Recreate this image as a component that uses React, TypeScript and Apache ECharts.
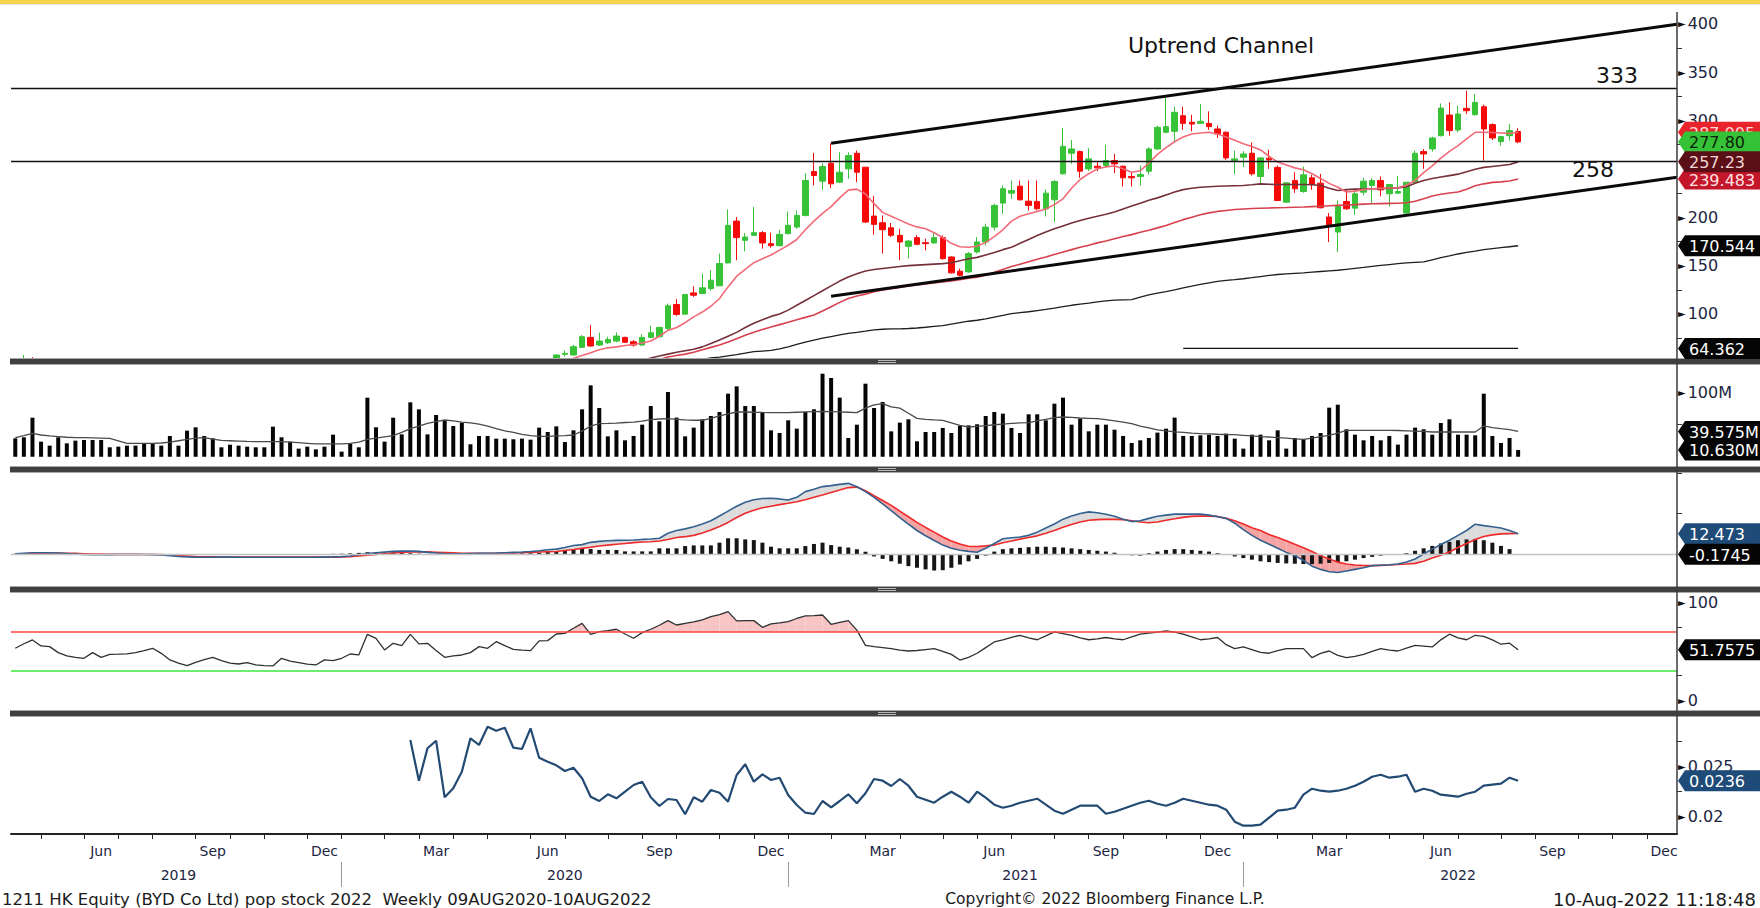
import React, { useEffect, useRef } from 'react';
import * as echarts from 'echarts';

const FONT = '"DejaVu Sans", Verdana, sans-serif';
const DAY = 86400000;
const START = Date.UTC(2019, 3, 5);
const N_WEEKS = 194;
const weeks: string[] = [];
for (let i = 0; i < N_WEEKS; i++) weeks.push(new Date(START + i * 7 * DAY).toISOString().slice(0, 10));
const MONTHS = ['Jan', 'Feb', 'Mar', 'Apr', 'May', 'Jun', 'Jul', 'Aug', 'Sep', 'Oct', 'Nov', 'Dec'];
const LABEL_MONTHS = [2, 5, 8, 11];

// ---------- price (weekly OHLC: open, close, low, high) ----------
const EARLY_START = 1;
const earlyOhlc = [[50, 53, 48, 57.5], [53, 51, 49, 55.5]];
const OHLC_START = 63;
const ohlc = [
  [54.0, 57.6, 53, 58.3], [58.3, 59.3, 56, 62], [57.6, 66.2, 57, 67.9], [65.5, 76.5, 65, 78.2], [75.8, 66.9, 66.2, 88.5],
  [67.9, 72.0, 66.9, 80.6], [70.3, 73.7, 69, 76.5], [72, 77.2, 70.7, 81], [75.8, 70.7, 70.3, 76.5], [71.3, 67.9, 66.2, 73],
  [67.9, 75.8, 66.9, 78.9], [75.8, 80.6, 74.8, 87.8], [76.5, 86.1, 75.8, 86.8], [85.1, 108.4, 83.4, 110.8], [109.8, 99.5, 98.1, 115.3],
  [99.8, 120.1, 99.8, 120.5], [121.8, 119.4, 117.7, 128.7], [121.2, 127, 120.5, 141.8], [126.3, 134.9, 123.9, 145.2], [129.1, 152.1, 129.1, 162.4],
  [152.8, 191.6, 152.1, 208.1], [196.0, 178.9, 155.5, 200.2], [176.1, 179.5, 164.8, 183.7], [181.3, 184.0, 180.6, 210.5], [184.0, 173.4, 167.5, 185.7],
  [172.7, 170.6, 168.5, 184.0], [170.6, 182.3, 169.9, 187.1], [183, 191.6, 182.3, 206], [189.8, 201.9, 188.1, 207.0], [201.9, 237.9, 200.8, 245.5],
  [247.2, 243.1, 232.8, 266.5], [237.3, 252.4, 228.3, 255.8], [255.8, 234.5, 230.0, 276.4], [236.2, 246.5, 235.2, 267.1], [250.0, 263.7, 239.7, 267.1],
  [266.1, 246.5, 236.2, 268.9], [251.7, 195.0, 194.0, 251.7], [201.2, 192.6, 182.0, 221.8], [194.3, 187.1, 162.4, 201.9], [189.1, 181.3, 179.5, 194.0],
  [181.3, 174.4, 155.5, 188.1], [169.9, 175.4, 157.2, 176.1], [178.9, 172.0, 171.0, 181.3], [173.7, 172.7, 165.8, 177.8], [173.4, 178.9, 172.7, 183.7],
  [178.9, 157.2, 156.2, 181.3], [158.9, 142.5, 141.8, 159.6], [144.2, 140.0, 139.0, 146.9], [143.5, 162.4, 142.5, 164.1], [164.1, 174.4, 162.4, 179.5],
  [174.4, 189.8, 170.9, 193.3], [189.8, 212.2, 186.4, 213.9], [214.6, 229.4, 203.6, 232.8], [224.9, 227.6, 219.0, 237.9], [232.1, 218.0, 217.3, 237.9],
  [216.6, 212.2, 207.0, 237.9], [216.3, 208.7, 207.0, 237.9], [208.7, 224.9, 200.8, 228.7], [218.0, 236.9, 195.0, 238.6], [244.8, 273.3, 244.1, 292.2],
  [266.1, 270.6, 255.1, 279.8], [267.8, 247.6, 240.7, 268.9], [249.9, 260.3, 247.6, 271.3], [252.7, 251.0, 247.6, 256.8], [253.4, 258.5, 251.7, 275.0],
  [258.5, 255.1, 245.5, 265.4], [252.7, 240.7, 231.8, 253.4], [242.1, 240.7, 231.8, 246.5], [242.1, 244.1, 232.8, 253.4], [247.6, 270.6, 244.1, 272.3],
  [270.6, 292.9, 269.6, 294.6], [287.8, 293.6, 286.7, 325], [288.8, 308.4, 278.5, 314.2], [304.9, 297.0, 290.2, 314.2], [298.1, 296.3, 288.8, 306.0],
  [297, 299.1, 296.3, 317], [297.0, 293.6, 290.2, 309.4], [291.2, 286.0, 281.9, 294.6], [287.8, 261.3, 259.2, 288.8], [258.5, 260.3, 244.8, 268.9],
  [262.0, 265.4, 251.7, 268.2], [266.1, 244.8, 243.1, 277.4], [242.1, 261.3, 235.2, 262.0], [260.9, 259.2, 250.0, 269.6], [251.5, 217.3, 216.6, 253.4],
  [215.6, 235.5, 214.6, 236.2], [237.9, 229.4, 225.2, 246.5], [226.6, 243.8, 225.2, 252.4], [240.7, 233.8, 228.3, 243.8], [235.2, 209.8, 209.1, 244.8],
  [200.2, 191.6, 174.4, 204.3], [184.7, 211.1, 164.1, 217.3], [216.3, 208.7, 207.7, 228.3], [209.4, 224.2, 202.6, 229.4], [225.9, 237.3, 222.5, 240.7],
  [232.8, 237.9, 213.9, 240.4], [237.9, 228.3, 221.5, 242.1], [224.2, 233.8, 211.1, 233.8], [224.9, 226.6, 224.2, 242.4], [204.3, 236.2, 203.6, 236.2],
  [236.2, 266.1, 234.5, 268.9], [267.8, 265.4, 250.0, 270.6], [270.6, 281.9, 267.8, 283.3], [284.3, 312.8, 283.3, 317.6], [305.6, 289.5, 284.3, 318.7],
  [290.2, 306.6, 287.8, 315.2], [312.5, 310.1, 306.6, 330.7], [306.0, 318.7, 304.9, 327.3], [314.2, 291.2, 258.5, 316.3], [295.7, 281.9, 279.8, 297.0],
  [278.1, 283.3, 274.0, 284.3], [284.3, 289.5, 279.2, 296.3], [288.5, 277.8, 276.5, 292],
];

// ---------- moving averages ----------
const MA1_START = 64;
const ma1 = [50, 54.2, 57, 60, 63, 65, 66, 67.5, 68.5, 70, 72, 77, 83, 86, 91, 97, 102, 108, 116, 128, 139, 146, 153, 157, 161, 166, 171, 177, 187, 196, 204, 211, 220, 228, 229, 224, 214, 205, 201, 197, 193, 190, 188, 184, 179, 173, 169.5, 169, 170, 174, 180, 187, 196, 201, 203.5, 206, 208.5, 213, 219, 230, 239, 245, 250, 252, 253, 250, 246.5, 248, 256, 265, 272, 278, 283, 286, 287, 287.8, 286, 283, 279.5, 276, 273, 269.5, 263, 257, 254, 251, 249, 245, 240, 235, 231, 226, 227, 228.5, 229.4, 230, 230.2, 230.4, 233, 238, 246, 253, 261, 268, 274, 281, 287.8, 287.8, 287.5, 287, 286.5, 287.9];
const MA2_START = 73;
const ma2 = [52, 54.5, 56.5, 58.5, 60.5, 62, 63.5, 66, 69.5, 73, 77, 81, 86, 90.5, 94, 97.5, 100, 104, 109, 114, 119, 124, 129, 134, 138.3, 141.5, 144.5, 146, 147, 148, 149, 150, 150.5, 151, 151.5, 152, 153, 155, 157, 158.5, 161, 163.5, 166.5, 169, 173, 177, 181, 184.7, 188, 191, 194, 196.7, 199, 201, 203, 205.3, 208.5, 211.5, 214.5, 217.5, 220, 223, 226, 228.5, 230, 231, 231.5, 232, 232.3, 232.6, 232.8, 233.5, 234.5, 234, 233.8, 233.8, 233.8, 233.8, 233.5, 232.8, 230, 227.6, 228.5, 229, 229.2, 229.4, 229.6, 230, 230.3, 231.5, 235, 238, 240, 241.5, 243, 244.5, 247, 249.5, 251.5, 252.5, 253.4, 254.5, 257.2];
const MA3_START = 75;
const ma3 = [53, 55.5, 57, 58.5, 60.5, 63, 65.5, 68, 71, 74.5, 78, 81, 84, 86.5, 89, 91.5, 94, 96.5, 99, 103, 107.5, 112, 116, 118.5, 120.5, 123, 124.8, 126, 127.5, 129, 130, 131, 132, 133, 134, 135.5, 137, 138, 140, 143, 146, 149, 151.5, 154, 156.5, 158.9, 161.5, 164, 166.5, 169, 171, 173.5, 175.5, 177.8, 180, 182, 184.5, 186.5, 189, 191.5, 194.5, 197.5, 200, 202.5, 204.5, 206, 207, 208, 208.5, 209, 209.3, 209.6, 209.8, 210, 210.3, 210.5, 211, 211.4, 211.8, 212.2, 212.6, 213, 213.5, 213.9, 214.1, 214.3, 214.5, 215, 216.5, 219, 222, 223.8, 225, 226, 229, 232.5, 234.5, 236, 236.5, 237.5, 239.5];
const MA4_START = 80;
const ma4 = [53, 54.5, 55.5, 56.8, 58, 59.5, 61, 61.7, 62.4, 64, 66, 68.5, 71, 73, 75, 76.7, 78.4, 79.9, 81, 82.2, 83.5, 84.2, 84.5, 84.7, 85, 85.5, 86.3, 87.2, 88, 89.5, 91, 92.5, 93.5, 95, 96.8, 98.6, 100.3, 101.3, 102.3, 103.5, 104.7, 106, 107.5, 109, 110.2, 111.3, 112.5, 113.5, 114.3, 114.6, 114.9, 117.5, 119.7, 121.5, 123.2, 125, 127, 128.8, 130.5, 132.2, 133.8, 134.7, 135.5, 136.4, 137.5, 138.7, 139.8, 140.8, 141.4, 142, 142.5, 143.2, 143.9, 144.6, 145.2, 146.2, 147.2, 148.2, 149.3, 150.2, 151.1, 152, 152.9, 153.4, 153.8, 156, 158.2, 160, 162, 163.6, 165, 166.5, 167.5, 168.5, 169.5, 170.5];

// drawn levels and channel (x in week index)
const levels = [333, 258];
const upperChannel = [[95, 276.4], [193.5, 399.4]];
const lowerChannel = [[95, 118.4], [193.5, 241.3]];
const supportLine = [[136, 64.362], [175, 64.362]];

// ---------- volume (millions) ----------
const volume = [
  28.8, 30.4, 61.0, 23.6, 17.4, 30.4, 21.0, 25.2, 26.2, 26.2, 26.2, 14.8, 15.8, 17.4, 17.4, 20.0, 20.0, 17.4, 32.4, 17.4,
  40.8, 46.0, 32.4, 28.8, 14.8, 18.9, 17.4, 15.8, 14.8, 14.8, 47.0, 30.4, 23.6, 12.7, 15.8, 11.6, 15.8, 34.5, 8.0, 20.0,
  14.8, 92.2, 46.0, 23.6, 61.0, 35.0, 85.0, 74.0, 35.0, 65.2, 57.4, 48.0, 53.2, 19.5, 32.4,
  32.5, 28.3, 28.3, 27.3, 28.3, 26.7, 45.5, 38.7, 47.5, 23.1, 41.3, 74.1, 111.5, 76.1, 31.9, 41.3, 25.7, 32.5, 50.1, 79.3,
  55.3, 101.1, 61.1, 31.9, 45.5, 58.5, 63.7, 69.9, 98.5, 109.9, 79.3, 79.3, 68.9, 41.3, 37.1, 56.9, 43.9, 69.9, 74.1, 129.7,
  123.0, 92.3, 29.3, 50.1, 114.1, 76.1, 85.5, 39.7, 53.3, 58.5, 24.1, 38.7, 38.7, 45.0, 37.1, 48.1, 49.1, 50.7, 63.7, 69.9,
  67.3, 45.0, 37.1, 66.3, 66.3, 56.9, 82.9, 92.3, 50.1, 59.5, 39.7, 50.1, 50.1, 42.3, 32.5, 21.5, 25.7, 29.3, 37.7, 43.9,
  61.1, 32.5, 32.5, 33.5, 34.5, 32.5, 36.1, 28.3, 12.7, 34.5, 34.5, 25.7, 41.3, 12.7, 29.3, 27.3, 32.5, 37.1, 76.7, 81.3,
  42.9, 34.5, 25.7, 32.5, 25.7, 32.5, 19.0, 34.5, 45.5, 42.9, 34.5, 52.7, 58.5, 34.5, 34.5, 33.5, 98.5, 32.5, 21.5, 29.3,
  10.63,
];
const volumeMA = [
  30, 33, 36.5, 34, 32.5, 31.5, 30.5, 30, 29.8, 29.5, 29.2, 28.8, 25, 21, 21, 21, 21, 21.5, 23, 25,
  27, 29, 30, 27.5, 25.5, 25, 24.5, 24, 23.6, 23.6, 23.6, 23.6, 23, 22, 21, 20, 20, 20, 20, 21,
  23, 27, 29, 31, 33, 38, 44, 48, 52, 55, 57.4, 56, 54, 53, 51, 48, 44, 40.5, 38, 35,
  33, 32, 32, 32.5, 33, 34, 40, 48, 51.7, 52, 52.5, 53.5, 54, 55.5, 58, 59, 59.5, 58.5, 57.5, 57,
  57, 60, 64, 67, 69.9, 69.9, 69.5, 69.2, 69, 69, 69, 69.5, 70, 70.5, 71, 70.5, 70, 69.5, 69, 76,
  81, 82.9, 78, 76, 68, 60, 58.5, 57.5, 56.9, 53, 49, 46.5, 47.5, 48.5, 50, 51, 52, 52.8, 53.3, 56,
  58.5, 61, 62.1, 61.5, 60.5, 60, 59.5, 58, 56, 54, 51.7, 48, 45, 42, 40.3, 39, 38, 37, 36.1, 35.7,
  35.2, 34.8, 34.5, 33.5, 32.5, 31.5, 30.9, 30, 29, 28, 27.3, 29, 31.5, 33.5, 37, 41.3, 41.3, 41.3, 41.3, 41.3,
  41.3, 41, 40.5, 40, 39.5, 38.7, 38.7, 38.7, 38.7, 38.7, 38.7, 48.1, 45.5, 43.9, 42.5, 39.575,
];

// ---------- MACD ----------
const macd = [
  0.2, 0.5, 0.8, 0.8, 0.8, 0.6, 0.3, 0, -0.3, -0.5, -0.5, -0.4, -0.3, -0.3, -0.3, -0.3, -0.4, -0.6, -1.0, -1.5,
  -1.8, -2.0, -2.0, -2.0, -1.9, -1.9, -2.0, -2.0, -2.0, -2.0, -2.0, -2.0, -2.0, -2.0, -2.0, -2.0, -1.9, -1.8, -1.6, -1.2,
  -0.5, 0.3, 0.8, 1.2, 1.6, 1.8, 1.8, 1.6, 1.0, 0.6, 0.3, 0.2, 0.2, 0.3, 0.4, 0.5, 0.6, 0.8, 1.0, 1.2, 1.5, 2.0, 2.6,
  3.0, 4.0, 5.2, 5.8, 7.2, 7.8, 8.2, 8.4, 8.5, 8.6, 9.0, 9.3, 9.7, 12.8, 14.5, 15.5, 16.8, 18.5, 20.5, 23.5,
  26.5, 29.5, 32, 33.5, 34.3, 34.4, 34, 33.3, 35, 38.5, 40, 41.6, 42.2, 43,
  43.6, 41.5, 38.5, 35, 31, 26.7, 22.5, 18.5, 14.5, 11.3, 8.3, 5.5, 3.5, 2.3, 1.6, 1.1, 3.5, 6.5, 9.4, 10,
  10.5, 11.5, 13.5, 16, 18.5, 21.5, 23.5, 25, 26, 25.5, 24.5, 23.3, 21.5, 20, 20.5, 22, 23.3, 24, 24.6, 24.6,
  24.6, 24.6, 24, 23, 22, 19, 15, 11.5, 8.5, 6, 3.5, 1, -1, -4, -7.5, -9.5, -11, -11.4, -10.5, -9.5,
  -8.5, -7.2, -6.9, -6.6, -6.2, -5, -3.1, 0, 3, 5.9, 8.5, 11.5, 14.5, 18.4, 17.5, 16.8, 16, 14.5, 12.473,
];
const macdSignal = [
  0.1, 0.2, 0.4, 0.5, 0.6, 0.6, 0.5, 0.4, 0.2, 0, -0.1, -0.2, -0.2, -0.25, -0.25, -0.3, -0.3, -0.4, -0.6, -0.9,
  -1.2, -1.5, -1.7, -1.8, -1.9, -1.9, -1.9, -1.9, -1.9, -1.9, -1.9, -1.9, -1.9, -1.9, -1.9, -1.9, -1.9, -1.9,
  -1.8, -1.6, -1.2, -0.8, -0.3, 0.2, 0.6, 1.0, 1.3, 1.4, 1.3, 1.1, 0.9, 0.7, 0.5, 0.4, 0.4, 0.4, 0.5, 0.6, 0.7, 0.8, 1.0, 1.2, 1.4,
  1.5, 2.2, 2.8, 3.5, 4.2, 4.9, 5.5, 6.0, 6.5, 7.0, 7.4, 7.6, 8.0, 9.0, 10.2, 10.7, 11.5, 13, 14.8, 17,
  19.5, 22.5, 25.1, 27, 28.5, 29.5, 30.5, 31.3, 32.3, 33.5, 35, 36.4, 38, 39.5,
  41, 41.3, 39, 36, 33, 30, 26.5, 23, 19.5, 16.4, 13.5, 10.5, 8, 6.2, 4.8, 4.6, 5, 5.5, 7, 8,
  9.2, 10.2, 11.2, 12.8, 14.5, 16.5, 18.2, 19.8, 20.8, 21.2, 21.4, 21.4, 21.2, 20.5, 19.8, 19.3, 19.8, 20.8, 21.8, 22.6,
  23.2, 23.4, 23.4, 23.2, 22, 20.5, 18.5, 16.2, 14.5, 12, 10.2, 8.2, 6, 3.9, 1.5, -1, -3.1, -5, -6.2, -6.8,
  -7.1, -7.2, -7, -6.8, -6.5, -6.2, -5.8, -4.5, -2.5, -0.8, 1.2, 4, 6.5, 9, 10.8, 11.8, 12.4, 12.6, 12.65,
];
const macdHist = [
  0.1, 0.3, 0.4, 0.3, 0.2, 0, -0.2, -0.4, -0.5, -0.5, -0.4, -0.2, -0.1, 0, 0, 0, -0.1, -0.2, -0.4, -0.6,
  -0.6, -0.5, -0.3, -0.2, 0, 0, -0.1, -0.1, -0.1, -0.1, -0.1, -0.1, -0.1, -0.1, -0.1, -0.1, 0, 0.1, 0.2, 0.4,
  0.7, 1.1, 1.1, 1.0, 1.0, 0.8, 0.5, 0.2, -0.3, -0.5, -0.6, -0.5, -0.3, -0.1, 0, 0.1, 0.1, 0.2, 0.3, 0.4, 0.5, 0.8, 1.2,
  1.5, 2.5, 3.1, 3.1, 3.1, 2.5, 2.5, 2.5, 1.6, 1.6, 1.6, 1.6, 3.5, 3.5, 3.5, 4.9, 5.3, 5.3, 5.3, 7.0,
  9.7, 9.7, 9.0, 8.6, 7.0, 4.5, 3.5, 3.5, 3.5, 4.9, 6.2, 7.0, 5.5, 4.5, 4.0, 2.9, 1.4,
  -1.5, -3, -4.5, -6, -7.5, -8.5, -9.5, -10.2, -10, -8.5, -6.5, -4.5, -3, -1, 1.5, 3, 3.5, 3.8, 4.2, 4.5,
  4.5, 4.2, 4, 3.5, 3, 2.5, 2, 1.5, 0.8, 0, -0.8, -1, 0.5, 1.5, 2.5, 3, 3, 2.5, 2, 1.5,
  0.5, -0.5, -1.5, -2.5, -3.5, -4.5, -5, -5.5, -5.8, -6, -6.2, -6.2, -6, -5.5, -5, -4.5, -3.5, -2.5, -1.8, -1,
  -0.5, -0.3, 0.5, 2, 3.5, 5, 6.5, 7.5, 8.5, 9, 9.3, 8.5, 7, 5, 3, -0.1745,
];

// ---------- RSI ----------
const rsi = [
  53.3, 58, 61.9, 55.7, 55, 48.8, 45.4, 44, 43, 48.8, 44, 47.1, 47.3, 47.6, 48.8, 51, 53.3, 48.1, 41.3, 38,
  35.4, 38.8, 41.5, 44, 40.6, 38, 37.1, 38.5, 36.1, 35.5, 35.1, 43, 40, 38.5, 37, 36.1, 41.3, 40.6, 43, 47.4,
  46.4, 67.7, 63.6, 51.6, 58.4, 56, 67.7, 57.8, 58.4, 51, 44, 45.5, 46.4, 48.8, 55, 53.3, 60.1, 56, 52.2, 51.5,
  50.9, 60.9, 61.2, 68, 68.7, 74, 79, 67.7, 70.4, 71.5, 72.9, 68, 63.6, 69.4, 72.9, 77, 81.8, 77.3, 79, 80.5,
  82.5, 85.9, 88, 91.1, 81.5, 81.7, 81.8, 74.9, 78.4, 79.5, 80.8, 84, 86.6, 87, 87.6, 78, 80, 81.8, 72,
  56.3, 55, 54, 52.9, 51.5, 50.5, 51, 52, 52.9, 50, 47, 41.2, 44, 48.2, 54, 59.8, 62, 64.5, 66.7, 64,
  62.1, 66, 70.2, 68.5, 66.7, 64, 62.1, 63, 64.4, 63, 62.1, 65, 67.8, 69, 70, 71.3, 70, 67.8, 65, 62.1,
  63, 64.4, 57, 52.9, 54.7, 52, 49, 48.2, 51, 52.9, 53, 52.9, 43.6, 48, 50.5, 46, 43.6, 45, 47, 50,
  52.9, 51.5, 50.5, 53.5, 56.3, 55.5, 54.7, 62, 67.8, 64, 62.1, 66.7, 65.5, 62, 57.5, 58.6, 51.7575,
];
const rsiLevels = [70, 30];

// ---------- lower study ----------
const STUDY_START = 46;
const study = [
  0.02767, 0.02360, 0.02684, 0.02760, 0.02194, 0.02284, 0.02450, 0.02784, 0.02717, 0.02900, 0.02860, 0.02890, 0.02690, 0.02677,
  0.02884, 0.02590, 0.02550, 0.02514, 0.02457, 0.02490, 0.02384, 0.02200, 0.02157, 0.02224, 0.02184, 0.02250, 0.02317, 0.02350,
  0.02194, 0.02107, 0.02177, 0.02167, 0.02024, 0.02194, 0.02150, 0.02267, 0.02240, 0.02150, 0.02417, 0.02524, 0.02350, 0.02424,
  0.02367, 0.02390, 0.02217, 0.02117, 0.02040, 0.02027, 0.02157, 0.02094, 0.02157, 0.02224, 0.02134, 0.02234, 0.02377, 0.02360,
  0.02307, 0.02377,
  0.0231, 0.0220, 0.0217, 0.0214, 0.0220, 0.0225, 0.0220, 0.0214, 0.0225, 0.0219, 0.0212, 0.0209, 0.0211, 0.0214, 0.0216, 0.0218,
  0.0212, 0.0206, 0.0203, 0.0207, 0.0211, 0.0211, 0.0211, 0.0203, 0.0205, 0.0208, 0.0211, 0.0214, 0.0216, 0.0213, 0.0211, 0.0214,
  0.0218, 0.0216, 0.0214, 0.0212, 0.0211, 0.0207, 0.0195, 0.0191, 0.0191, 0.0192, 0.0199, 0.0206, 0.0207, 0.0209, 0.0222, 0.0228,
  0.0226, 0.0225, 0.0226, 0.0228, 0.0231, 0.0235, 0.0240, 0.0242, 0.0239, 0.0240, 0.0242, 0.0225, 0.0228, 0.0226, 0.0222, 0.0221,
  0.0220, 0.0223, 0.0225, 0.0231, 0.0232, 0.0233, 0.0239, 0.0236,
];

// ---------- axis ticks / labels and price tags ----------
const priceLabels = [100, 150, 200, 300, 350, 400];
const priceMinor = [75, 125, 175, 225, 275, 325, 375];
const volLabels = [100];
const volMinor = [50];
const macdMinor = [25, 50];
const rsiLabels = [0, 100];
const rsiMinor = [25, 75];
const studyLabels = [0.02, 0.025];
const studyMinor = [0.0225, 0.0275, 0.03];

const tags = [
  { axis: 0, value: 287.905, text: '287.905', bg: '#e8232b', fg: '#ffd6d6' },
  { axis: 0, value: 277.8, text: '277.80', bg: '#36c236', fg: '#0b1f0b' },
  { axis: 0, value: 239.483, text: '239.483', bg: '#c4162a', fg: '#ffe2e2' },
  { axis: 0, value: 257.23, text: '257.23', bg: '#5a0f17', fg: '#f3d6d6' },
  { axis: 0, value: 170.544, text: '170.544', bg: '#050505', fg: '#ffffff' },
  { axis: 0, value: 64.362, text: '64.362', bg: '#050505', fg: '#ffffff' },
  { axis: 1, value: 39.575, text: '39.575M', bg: '#050505', fg: '#ffffff' },
  { axis: 1, value: 10.63, text: '10.630M', bg: '#050505', fg: '#ffffff' },
  { axis: 2, value: 12.473, text: '12.473', bg: '#1f4b78', fg: '#ffffff' },
  { axis: 2, value: -0.1745, text: '-0.1745', bg: '#050505', fg: '#ffffff' },
  { axis: 3, value: 51.7575, text: '51.7575', bg: '#050505', fg: '#ffffff' },
  { axis: 4, value: 0.0236, text: '0.0236', bg: '#1f4b78', fg: '#ffffff' },
];

// ---------- layout ----------
const PLOT_LEFT = 11;
const PLOT_RIGHT_PX = 1677;
const panels = [
  { top: 15, height: 343 },
  { top: 366, height: 100 },
  { top: 473, height: 113 },
  { top: 592, height: 118 },
  { top: 716, height: 118 },
];
const separators = [358, 466, 586, 710];
const AXIS_COLOR = '#1c2541';
const OVERLAY_X = 6;

function padSeries(start: number, vals: any[]) {
  const a: any[] = new Array(N_WEEKS).fill('-');
  vals.forEach((v, k) => { a[start + k] = v; });
  return a;
}
const dateOf = (i: number) => new Date(START + i * 7 * DAY);
const isMonthEnd = (i: number) => dateOf(i).getUTCMonth() !== dateOf(i + 1).getUTCMonth();
const isYearEnd = (i: number) => isMonthEnd(i) && dateOf(i).getUTCMonth() === 11;
const isMonthLabel = (i: number) => {
  const d = dateOf(i);
  return LABEL_MONTHS.includes(d.getUTCMonth()) && d.getUTCDate() >= 8 && d.getUTCDate() <= 14;
};
const yearCenters: Record<number, boolean> = {};
(() => {
  const byYear: Record<number, number[]> = {};
  for (let i = 0; i < N_WEEKS; i++) {
    const y = dateOf(i).getUTCFullYear();
    (byYear[y] = byYear[y] || []).push(i);
  }
  Object.values(byYear).forEach((idx) => { yearCenters[Math.floor((idx[0] + idx[idx.length - 1]) / 2)] = true; });
})();

function arrowLabel(fmt: (v: number) => string) {
  return (v: number) => '{a|►}{b|' + fmt(v) + '}';
}
const labelRich = {
  a: { fontSize: 10, color: '#111', padding: [0, 2, 0, 0], fontFamily: FONT },
  b: { fontSize: 16, color: AXIS_COLOR, fontFamily: FONT },
};

function yAxis(grid: number, min: number, max: number, labels: number[] | null, minor: number[], fmt: (v: number) => string) {
  return {
    type: 'value', gridIndex: grid, position: 'right', min, max, scale: true,
    axisLine: { show: false, onZero: false },
    splitLine: { show: false },
    axisTick: { show: true, customValues: minor, length: 5, lineStyle: { color: '#333', width: 1 } },
    axisLabel: labels
      ? { show: true, customValues: labels, margin: 1, formatter: arrowLabel(fmt), rich: labelRich }
      : { show: false },
  };
}

function fillBetween(getA: (i: number) => any, getB: (i: number) => any, pos: string | null, neg: string | null) {
  return (params: any, api: any) => {
    const i = api.value(0);
    const a0 = getA(i), a1 = getA(i + 1), b0 = getB(i), b1 = getB(i + 1);
    if ([a0, a1, b0, b1].some((v) => v === '-' || v == null)) return null;
    const P = (x: number, v: number) => api.coord([x, v]);
    const poly = (pts: number[][], fill: string) => ({ type: 'polygon', shape: { points: pts }, style: { fill }, silent: true });
    const d0 = a0 - b0, d1 = a1 - b1;
    const children: any[] = [];
    if (d0 * d1 >= 0) {
      const col = d0 + d1 >= 0 ? pos : neg;
      if (col && (d0 !== 0 || d1 !== 0)) children.push(poly([P(i, a0), P(i + 1, a1), P(i + 1, b1), P(i, b0)], col));
    } else {
      const t = d0 / (d0 - d1);
      const x0 = P(i, a0)[0], x1 = P(i + 1, a0)[0];
      const cv = a0 + t * (a1 - a0);
      const c = [x0 + t * (x1 - x0), P(i, cv)[1]];
      const c0 = d0 > 0 ? pos : neg;
      const c1 = d1 > 0 ? pos : neg;
      if (c0) children.push(poly([P(i, a0), c, P(i, b0)], c0));
      if (c1) children.push(poly([c, P(i + 1, a1), P(i + 1, b1)], c1));
    }
    return { type: 'group', children };
  };
}

function buildOption() {
  const candles = padSeries(OHLC_START, ohlc);
  earlyOhlc.forEach((c, k) => { candles[EARLY_START + k] = c; });
  const segIdx = Array.from({ length: N_WEEKS - 1 }, (_, i) => [i, 0]);
  const hiddenX = (grid: number) => ({ type: 'category', gridIndex: grid, data: weeks, show: false, boundaryGap: true, axisLine: { onZero: false } });
  const thin = (color: string, width = 1.5) => ({ color, width });

  return {
    animation: false,
    backgroundColor: '#ffffff',
    textStyle: { fontFamily: FONT },
    grid: panels.map((p) => ({ left: PLOT_LEFT, right: 1760 - PLOT_RIGHT_PX, top: p.top, height: p.height })),
    xAxis: [
      hiddenX(0), hiddenX(1), hiddenX(2), hiddenX(3),
      {
        type: 'category', gridIndex: 4, data: weeks, boundaryGap: true, position: 'bottom',
        axisLine: { show: true, onZero: false, lineStyle: { color: '#222', width: 2 } },
        axisTick: { show: true, alignWithLabel: true, interval: (i: number) => isMonthEnd(i), length: 5, lineStyle: { color: '#222', width: 1 } },
        axisLabel: {
          interval: (i: number) => isMonthLabel(i), margin: 10, fontSize: 14, color: AXIS_COLOR, fontFamily: FONT,
          formatter: (v: string) => MONTHS[new Date(v).getUTCMonth()],
        },
        splitLine: { show: false },
      },
      {
        type: 'category', gridIndex: 4, data: weeks, boundaryGap: true, position: 'bottom', offset: 28,
        axisLine: { show: false, onZero: false },
        axisTick: { show: true, alignWithLabel: true, interval: (i: number) => isYearEnd(i), length: 25, lineStyle: { color: '#9a9a9a', width: 1 } },
        axisLabel: {
          interval: (i: number) => !!yearCenters[i], margin: 6, fontSize: 14, color: AXIS_COLOR, fontFamily: FONT,
          formatter: (v: string) => v.slice(0, 4),
        },
      },
      { type: 'value', gridIndex: 0, min: -0.5, max: N_WEEKS - 0.5, show: false, axisLine: { onZero: false } },
    ],
    yAxis: [
      yAxis(0, 54.5, 409, priceLabels, priceMinor, (v) => String(v)),
      yAxis(1, -14.4, 141.7, volLabels, volMinor, (v) => v + 'M'),
      yAxis(2, -19.75, 50, null, macdMinor, (v) => String(v)),
      yAxis(3, -10.3, 111.3, rsiLabels, rsiMinor, (v) => String(v)),
      yAxis(4, 0.01827, 0.03007, studyLabels, studyMinor, (v) => String(v)),
    ],
    series: [
      {
        type: 'candlestick', xAxisIndex: 0, yAxisIndex: 0, data: candles, barWidth: 6, clip: true, z: 2,
        itemStyle: { color: '#38c238', color0: '#f50a0a', borderColor: '#38c238', borderColor0: '#f50a0a', borderWidth: 1 },
        markLine: {
          silent: true, symbol: 'none', label: { show: false },
          lineStyle: { color: '#111', width: 1.3, type: 'solid' },
          data: levels.map((v) => ({ yAxis: v })),
        },
      },
      { type: 'line', xAxisIndex: 0, yAxisIndex: 0, data: padSeries(MA4_START, ma4), symbol: 'none', z: 3, lineStyle: thin('#1e1e1e', 1.3) },
      { type: 'line', xAxisIndex: 0, yAxisIndex: 0, data: padSeries(MA3_START, ma3), symbol: 'none', z: 3, lineStyle: thin('#d8404e', 1.6) },
      { type: 'line', xAxisIndex: 0, yAxisIndex: 0, data: padSeries(MA2_START, ma2), symbol: 'none', z: 3, lineStyle: thin('#76303a', 1.6) },
      { type: 'line', xAxisIndex: 0, yAxisIndex: 0, data: padSeries(MA1_START, ma1), symbol: 'none', z: 3, lineStyle: thin('#f26a78', 1.6) },
      { type: 'line', xAxisIndex: OVERLAY_X, yAxisIndex: 0, data: upperChannel, symbol: 'none', z: 4, lineStyle: thin('#0a0a0a', 3) },
      { type: 'line', xAxisIndex: OVERLAY_X, yAxisIndex: 0, data: lowerChannel, symbol: 'none', z: 4, lineStyle: thin('#0a0a0a', 3) },
      { type: 'line', xAxisIndex: OVERLAY_X, yAxisIndex: 0, data: supportLine, symbol: 'none', z: 4, lineStyle: thin('#111', 1.3) },

      { type: 'bar', xAxisIndex: 1, yAxisIndex: 1, data: volume, barWidth: 4, itemStyle: { color: '#050505' }, z: 2 },
      { type: 'line', xAxisIndex: 1, yAxisIndex: 1, data: volumeMA, symbol: 'none', z: 3, lineStyle: thin('#4a4a4a', 1.3) },

      {
        type: 'custom', xAxisIndex: 2, yAxisIndex: 2, data: segIdx, encode: { x: 0, y: 1 }, z: 1, clip: true, silent: true,
        renderItem: fillBetween((i) => macd[i], (i) => macdSignal[i], '#dcdcdc', '#f5a3a3'),
      },
      {
        type: 'bar', xAxisIndex: 2, yAxisIndex: 2, data: macdHist, barWidth: 4, itemStyle: { color: '#161616' }, z: 2,
        markLine: { silent: true, symbol: 'none', label: { show: false }, lineStyle: { color: '#c4c4c4', width: 1.3, type: 'solid' }, data: [{ yAxis: 0 }] },
      },
      { type: 'line', xAxisIndex: 2, yAxisIndex: 2, data: macdSignal, symbol: 'none', z: 3, lineStyle: thin('#ee2a2a', 1.6) },
      { type: 'line', xAxisIndex: 2, yAxisIndex: 2, data: macd, symbol: 'none', z: 4, lineStyle: thin('#33618f', 1.6) },

      {
        type: 'custom', xAxisIndex: 3, yAxisIndex: 3, data: segIdx, encode: { x: 0, y: 1 }, z: 1, clip: true, silent: true,
        renderItem: fillBetween((i) => rsi[i], () => rsiLevels[0], '#f8c4c4', null),
      },
      {
        type: 'line', xAxisIndex: 3, yAxisIndex: 3, data: rsi, symbol: 'none', z: 3, lineStyle: thin('#303030', 1.3),
        markLine: {
          silent: true, symbol: 'none', label: { show: false },
          data: [
            { yAxis: rsiLevels[0], lineStyle: { color: '#ff4545', width: 1.6, type: 'solid' } },
            { yAxis: rsiLevels[1], lineStyle: { color: '#3ae83a', width: 1.6, type: 'solid' } },
          ],
        },
      },

      { type: 'line', xAxisIndex: 4, yAxisIndex: 4, data: padSeries(STUDY_START, study), symbol: 'none', z: 3, lineStyle: thin('#234a72', 2.2) },
    ],
  };
}

function buildGraphics(chart: any) {
  const g: any[] = [];
  const py = (axis: number, v: number) => chart.convertToPixel({ yAxisIndex: axis }, v) as number;
  g.push({ type: 'rect', shape: { x: 0, y: 0, width: 1760, height: 4 }, style: { fill: '#f6d54c' }, z: 50 });
  g.push({ type: 'rect', shape: { x: 0, y: 4, width: 1760, height: 1 }, style: { fill: '#dfe9df' }, z: 50 });
  separators.forEach((y) => {
    g.push({ type: 'rect', shape: { x: 10, y, width: 1750, height: 7 }, style: { fill: '#a8a8a8' }, z: 60 });
    g.push({ type: 'rect', shape: { x: 10, y: y + 1, width: 1750, height: 5 }, style: { fill: '#404040' }, z: 61 });
    g.push({ type: 'rect', shape: { x: 878, y: y + 2, width: 18, height: 1 }, style: { fill: '#b8b8b8' }, z: 62 });
    g.push({ type: 'rect', shape: { x: 878, y: y + 4, width: 18, height: 1 }, style: { fill: '#b8b8b8' }, z: 62 });
  });
  g.push({ type: 'line', shape: { x1: PLOT_RIGHT_PX, y1: 12, x2: PLOT_RIGHT_PX, y2: 835 }, style: { stroke: '#3a3a3a', lineWidth: 1.5 }, z: 63 });
  g.push({ type: 'text', x: 1128, y: 45, style: { text: 'Uptrend Channel', font: '22px ' + FONT, fill: '#111', verticalAlign: 'middle', textAlign: 'left' }, z: 70 });
  g.push({ type: 'text', x: 1596, y: py(0, levels[0]) - 13, style: { text: String(levels[0]), font: '22px ' + FONT, fill: '#111', verticalAlign: 'middle', textAlign: 'left' }, z: 70 });
  g.push({ type: 'text', x: 1572, y: py(0, levels[1]) + 8, style: { text: String(levels[1]), font: '22px ' + FONT, fill: '#111', verticalAlign: 'middle', textAlign: 'left' }, z: 70 });
  tags.forEach((t, k) => {
    const y = py(t.axis, t.value);
    g.push({
      type: 'group', z: 80 + k,
      children: [
        { type: 'polygon', z: 80 + k, shape: { points: [[1678, y], [1685, y - 10.5], [1760, y - 10.5], [1760, y + 10.5], [1685, y + 10.5]] }, style: { fill: t.bg } },
        { type: 'text', z: 80 + k, x: 1689, y: y + 1, style: { text: t.text, font: '16px ' + FONT, fill: t.fg, verticalAlign: 'middle', textAlign: 'left' } },
      ],
    });
  });
  const foot = (x: number, text: string, align: string, size: number) => ({ type: 'text', x, y: 899, z: 70, style: { text, font: size + 'px ' + FONT, fill: '#1a1a1a', verticalAlign: 'middle', textAlign: align } });
  g.push(foot(2, '1211 HK Equity (BYD Co Ltd) pop stock 2022  Weekly 09AUG2020-10AUG2022', 'left', 16.5));
  g.push(foot(1105, 'Copyright© 2022 Bloomberg Finance L.P.', 'center', 15.5));
  g.push(foot(1756, '10-Aug-2022 11:18:48', 'right', 18));
  return g;
}

export default function App() {
  const ref = useRef<HTMLDivElement>(null);
  useEffect(() => {
    if (!ref.current) return;
    const chart = echarts.init(ref.current, null, { renderer: 'svg' });
    chart.setOption(buildOption() as any);
    chart.setOption({ graphic: buildGraphics(chart) } as any);
    return () => chart.dispose();
  }, []);
  return <div ref={ref} style={{ position: 'fixed', left: 0, top: 0, width: 1760, height: 908, background: '#fff' }} />;
}
